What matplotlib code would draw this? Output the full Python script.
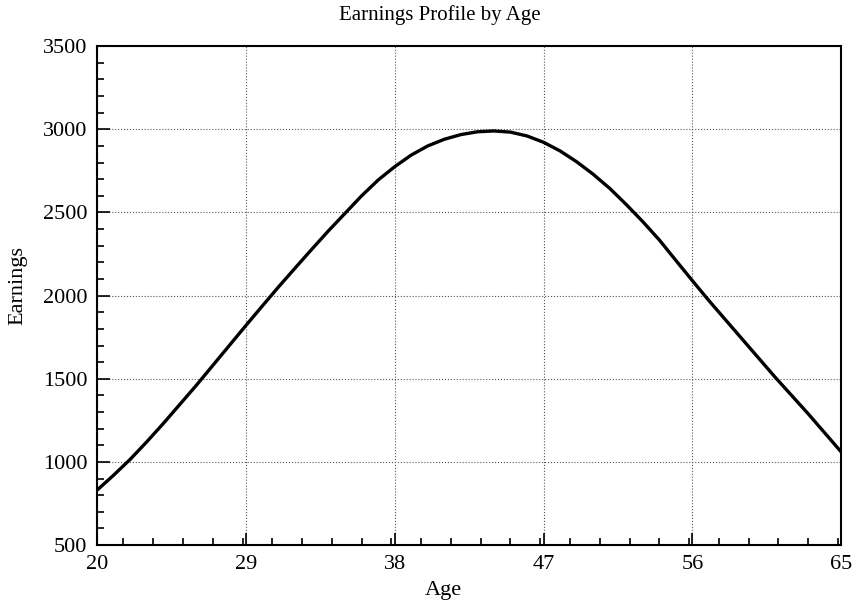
import matplotlib.pyplot as plt
from matplotlib.ticker import MultipleLocator
import numpy as np

plt.rcParams['font.family'] = ['Liberation Serif', 'DejaVu Serif']

# earnings, one value per year of age
ages = list(range(20, 66))
earnings = [830, 920, 1015, 1120, 1230, 1345, 1460, 1580, 1700, 1820,
            1938, 2055, 2168, 2280, 2390, 2495, 2600, 2695, 2775, 2845,
            2900, 2940, 2968, 2985, 2990, 2983, 2960, 2922, 2870, 2805,
            2730, 2645, 2548, 2445, 2335, 2212, 2090, 1970, 1855, 1740,
            1625, 1510, 1400, 1290, 1175, 1060]
xticks = [20, 29, 38, 47, 56, 65]

fig = plt.figure(figsize=(8.54, 6.07), dpi=100)
ax = fig.add_axes([0.1136, 0.102, 0.8714, 0.822])

ax.plot(ages, earnings, color='black', lw=2.4, solid_joinstyle='round')

ax.set_xlim(20, 65)
ax.set_ylim(500, 3500)
ax.set_xticks(xticks)
ax.yaxis.set_major_locator(MultipleLocator(500))
ax.xaxis.set_minor_locator(MultipleLocator(1.8))
ax.yaxis.set_minor_locator(MultipleLocator(100))
ax.tick_params(which='both', direction='in', top=False, right=False,
               labelsize=16, width=1.2)
ax.tick_params(which='major', length=9)
ax.tick_params(axis='x', which='major', pad=7)
ax.tick_params(axis='y', which='major', pad=7)
ax.tick_params(which='minor', length=5)
ax.grid(True, which='major', linestyle=':', color='#555555', lw=0.8)
for s in ax.spines.values():
    s.set_linewidth(1.5)

ax.set_title('Earnings Profile by Age', fontsize=15, pad=19, x=0.46)
ax.set_xlabel('Age', fontsize=16, labelpad=5, x=0.465)
ax.set_ylabel('Earnings', fontsize=16, labelpad=11, y=0.52)

fig.savefig('out.png', dpi=100)
